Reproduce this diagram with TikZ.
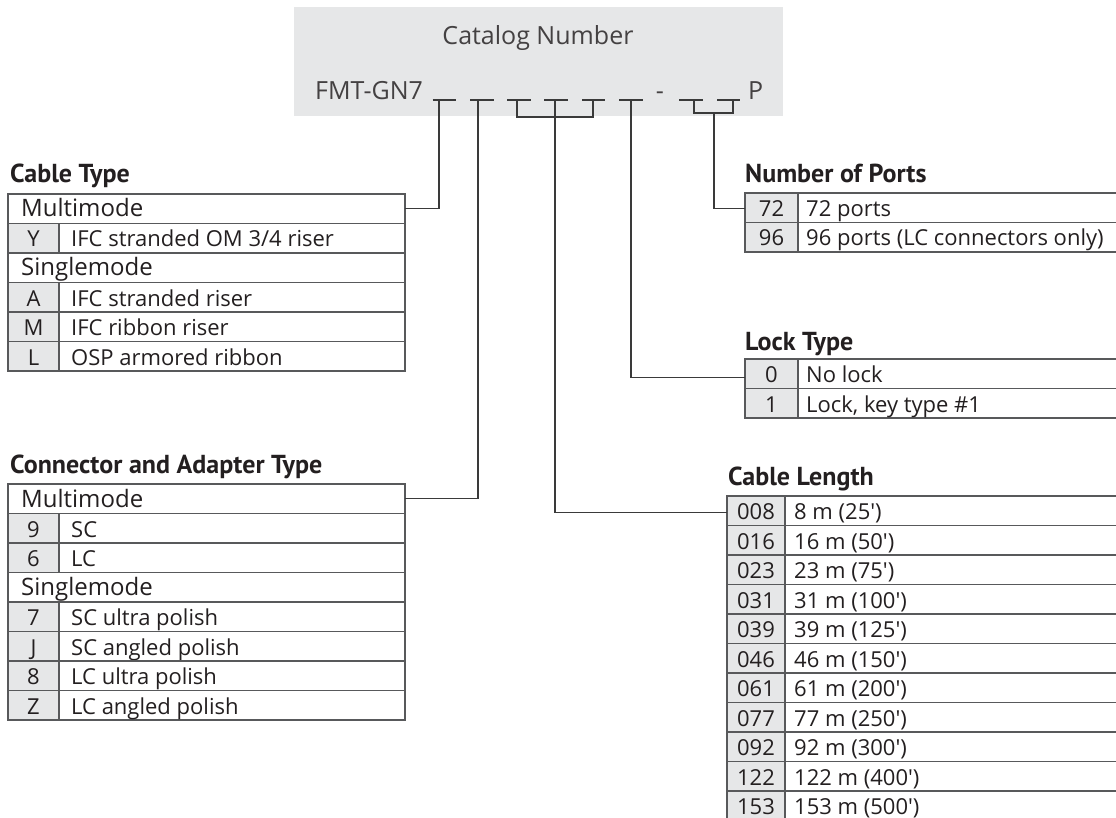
\documentclass[tikz,border=0pt]{standalone}
\usepackage{fontspec}
\setmainfont{Open Sans}
\newfontfamily\headfont{PT Sans}
\usetikzlibrary{calc}
\definecolor{boxgray}{HTML}{E6E7E8}
\definecolor{cellgray}{HTML}{E6E7E8}
\definecolor{rulegray}{HTML}{58595B}
\definecolor{ink}{HTML}{231F20}
\definecolor{wiregray}{HTML}{3A3A3A}
\tikzset{
 cellbase/.style={draw=rulegray, line width=1.2pt, anchor=north west, minimum height=29.5pt, inner sep=0pt, outer sep=0pt},
 codecell/.style={cellbase, fill=cellgray},
 desccell/.style={cellbase, fill=white},
 codetext/.style={anchor=base, inner sep=0pt, font=\fontsize{22}{22}\selectfont, text=ink},
 desctext/.style={anchor=base west, inner sep=0pt, font=\fontsize{22}{22}\selectfont, text=ink},
 sectext/.style={anchor=base west, inner sep=0pt, font=\fontsize{24}{24}\selectfont, text=ink},
 heading/.style={anchor=base west, inner sep=0pt, font=\headfont\bfseries\fontsize{26}{26}\selectfont, text=ink},
 cattext/.style={inner sep=0pt, font=\fontsize{25}{25}\selectfont, text=ink!85},
 wire/.style={draw=wiregray, line width=1.1pt},
 blankline/.style={draw=wiregray, line width=1.1pt},
}
% #1 name, #2 x, #3 y top, #4 code width, #5 desc width, #6 pad, #7 code, #8 desc
\newcommand\trow[8]{%
 \node[codecell, minimum width=#4pt] (#1c) at (#2,#3) {};
 \node[desccell, minimum width=#5pt] (#1d) at (#1c.north east) {};
 \node[codetext] (#1k) at ($(#1c.north)+(0,23.5)$) {#7};
 \node[desctext] (#1t) at ($(#1d.north west)+(#6,23.5)$) {#8};
}
% #1 name, #2 x, #3 y top, #4 width, #5 text
\newcommand\srow[5]{%
 \node[desccell, minimum width=#4pt] (#1) at (#2,#3) {};
 \node[sectext] (#1t) at ($(#1.north west)+(13,23)$) {#5};
}
\newcommand\ft{\textquotesingle}
\begin{document}
\begin{tikzpicture}[x=1pt,y=-1pt]
\useasboundingbox (0,0) rectangle (1116,818);
\clip (0,0) rectangle (1116,818);

% catalog box
\node[fill=boxgray, minimum width=489pt, minimum height=109pt, anchor=north west, inner sep=0pt, outer sep=0pt] (cat) at (294,7) {};
\node[cattext, anchor=base] (title) at (538,45) {Catalog Number};
\node[cattext, anchor=base west] (prefix) at (315,100) {FMT-GN7};
\node[cattext, anchor=base] (dash) at (660,100) {-};
\node[cattext, anchor=base west] (suffix) at (748,100) {P};

% blanks
\draw[blankline] (432.7,100) -- (456,100);
\draw[blankline] (470,100) -- (494,100);
\draw[blankline] (507,100) -- (531,100);
\draw[blankline] (544,100) -- (568,100);
\draw[blankline] (582,100) -- (605,100);
\draw[blankline] (619,100) -- (643,100);
\draw[blankline] (679,100) -- (703,100);
\draw[blankline] (717,100) -- (740,100);

\coordinate (v1) at (439,100);
\coordinate (v2) at (478,100);
\coordinate (v4) at (555,100);
\coordinate (v6) at (631,100);
\coordinate (br2) at (714,113);

% brackets
\draw[wire] (517,100) -- (517,117) -- (593,117) -- (593,100);
\draw[wire] (694,100) -- (694,113) -- (733,113) -- (733,100);

% Cable Type
\node[heading] (hct) at (10,183) {Cable Type};
\srow{ctm}{8}{194}{397}{Multimode}
\trow{cty}{8}{223.5}{51}{346}{12}{Y}{IFC stranded OM 3/4 riser}
\srow{cts}{8}{253}{397}{Singlemode}
\trow{cta}{8}{282.5}{51}{346}{12}{A}{IFC stranded riser}
\trow{ctmm}{8}{312}{51}{346}{12}{M}{IFC ribbon riser}
\trow{ctl}{8}{341.5}{51}{346}{12}{L}{OSP armored ribbon}

% Connector and Adapter Type
\node[heading] (hca) at (10,473) {Connector and Adapter Type};
\srow{cam}{8}{484}{397}{Multimode}
\trow{ca9}{8}{513.5}{51}{346}{12}{9}{SC}
\trow{ca6}{8}{543}{51}{346}{12}{6}{LC}
\srow{cas}{8}{572.5}{397}{Singlemode}
\trow{ca7}{8}{602}{51}{346}{12}{7}{SC ultra polish}
\trow{caj}{8}{631.5}{51}{346}{12}{J}{SC angled polish}
\trow{ca8}{8}{661}{51}{346}{12}{8}{LC ultra polish}
\trow{caz}{8}{690.5}{51}{346}{12}{Z}{LC angled polish}

% Number of Ports
\node[heading] (hpt) at (745,183) {Number of Ports};
\trow{pt1}{745}{193}{53}{400}{8}{72}{72 ports}
\trow{pt2}{745}{222.5}{53}{400}{8}{96}{96 ports (LC connectors only)}

% Lock Type
\node[heading] (hlk) at (745,350) {Lock Type};
\trow{lk1}{745}{359}{53}{400}{8}{0}{No lock}
\trow{lk2}{745}{388.5}{53}{400}{8}{1}{Lock, key type \#1}

% Cable Length
\node[heading] (hcl) at (728,485) {Cable Length};
\trow{cl1}{727}{496}{58}{400}{9}{008}{8 m (25\ft)}
\trow{cl2}{727}{525.5}{58}{400}{9}{016}{16 m (50\ft)}
\trow{cl3}{727}{555}{58}{400}{9}{023}{23 m (75\ft)}
\trow{cl4}{727}{584.5}{58}{400}{9}{031}{31 m (100\ft)}
\trow{cl5}{727}{614}{58}{400}{9}{039}{39 m (125\ft)}
\trow{cl6}{727}{643.5}{58}{400}{9}{046}{46 m (150\ft)}
\trow{cl7}{727}{673}{58}{400}{9}{061}{61 m (200\ft)}
\trow{cl8}{727}{702.5}{58}{400}{9}{077}{77 m (250\ft)}
\trow{cl9}{727}{732}{58}{400}{9}{092}{92 m (300\ft)}
\trow{cl10}{727}{761.5}{58}{400}{9}{122}{122 m (400\ft)}
\trow{cl11}{727}{791}{58}{400}{9}{153}{153 m (500\ft)}

% connectors
\draw[wire] (v1) |- (ctm.east);
\draw[wire] (v2) |- (cam.east);
\draw[wire] (v4) |- ([yshift=-2pt]cl1c.west);
\draw[wire] (v6) |- ([yshift=-3.5pt]lk1c.west);
\draw[wire] (br2) |- ([yshift=-1pt]pt1c.west);
\end{tikzpicture}
\end{document}
